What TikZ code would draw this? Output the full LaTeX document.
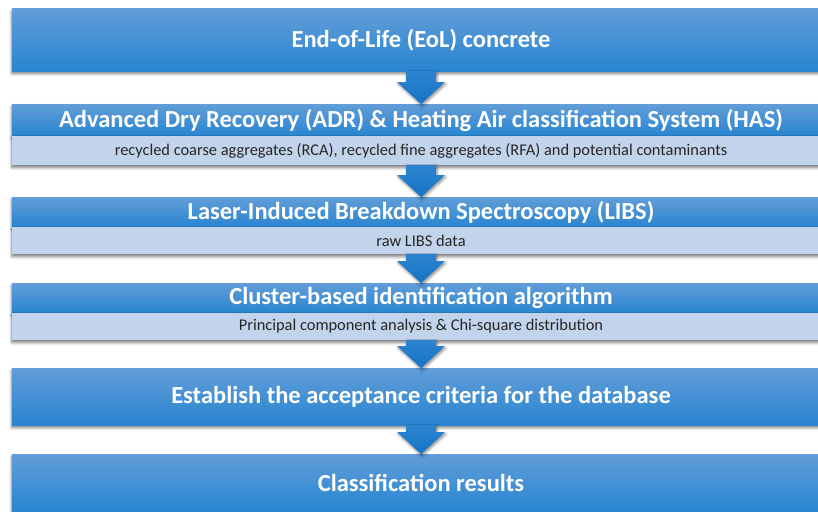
\documentclass[tikz,border=0pt]{standalone}
\usepackage{fontspec}
\setmainfont{Carlito}
\usetikzlibrary{positioning}
\usetikzlibrary{calc}
\usetikzlibrary{shadows.blur}
\definecolor{boxtop}{RGB}{98,157,216}
\definecolor{boxbot}{RGB}{40,133,209}
\definecolor{bandblue}{RGB}{194,212,236}
\definecolor{arrtop}{RGB}{44,132,208}
\definecolor{arrbot}{RGB}{22,116,196}

% fat downward arrow from the bottom of one box to the top of the next
\newcommand{\fatarrow}[2]{%
  \path[fatarr]
    ($(#1.south)+(-15,0)$) -- ($(#1.south)+(15,0)$) --
    ($(#2.north)+(15,22)$) -- ($(#2.north)+(24,22)$) --
    (#2.north) --
    ($(#2.north)+(-24,22)$) -- ($(#2.north)+(-15,22)$) -- cycle;}

\begin{document}
\begin{tikzpicture}[
    x=1pt, y=1pt,
    % node styles
    stage/.style = {
      draw=none,
      inner sep=0pt,
      outer sep=0pt,
      minimum width=818pt,
      align=center,
      font=\fontsize{24.5}{28}\selectfont\bfseries,
      text=white,
      top color=boxtop,
      bottom color=boxbot,
      blur shadow={shadow xshift=0pt, shadow yshift=-2.5pt,
        shadow blur radius=3pt, shadow opacity=55}
    },
    band/.style = {
      draw=none,
      inner sep=0pt,
      outer sep=0pt,
      minimum width=818pt,
      align=center,
      font=\fontsize{16.4}{19}\selectfont,
      text=black!85,
      fill=bandblue,
      blur shadow={shadow xshift=0pt, shadow yshift=-2.5pt,
        shadow blur radius=3pt, shadow opacity=55}
    },
    % arrow style
    fatarr/.style = {
      draw=none,
      top color=arrtop,
      bottom color=arrbot,
      blur shadow={shadow xshift=1pt, shadow yshift=-2pt,
        shadow blur radius=2.5pt, shadow opacity=45}
    }
  ]
  \useasboundingbox (0,0) rectangle (818,-511);
  \clip (0,0) rectangle (818,-511);

  % --- Nodes
  \node[stage, minimum height=62pt, anchor=north west] (eol) at (12,-9)
    {End-of-Life (EoL) concrete};

  \node[stage, minimum height=32pt, below=33pt of eol] (adr)
    {Advanced Dry Recovery (ADR) \& Heating Air classification System (HAS)};
  \node[band, minimum height=29pt, below=0pt of adr] (adrout)
    {recycled coarse aggregates (RCA), recycled fine aggregates (RFA) and potential contaminants};

  \node[stage, minimum height=30pt, below=32pt of adrout] (libs)
    {Laser-Induced Breakdown Spectroscopy (LIBS)};
  \node[band, minimum height=27pt, below=0pt of libs] (libsout)
    {raw LIBS data};

  \node[stage, minimum height=30pt, below=29pt of libsout] (cluster)
    {Cluster-based identification algorithm};
  \node[band, minimum height=27pt, below=0pt of cluster] (clusterout)
    {Principal component analysis \& Chi-square distribution};

  \node[stage, minimum height=57pt, below=28pt of clusterout] (accept)
    {Establish the acceptance criteria for the database};

  \node[stage, minimum height=57pt, below=29pt of accept] (result)
    {Classification results};

  % --- Arrows
  \fatarrow{eol}{adr}
  \fatarrow{adrout}{libs}
  \fatarrow{libsout}{cluster}
  \fatarrow{clusterout}{accept}
  \fatarrow{accept}{result}
\end{tikzpicture}
\end{document}
